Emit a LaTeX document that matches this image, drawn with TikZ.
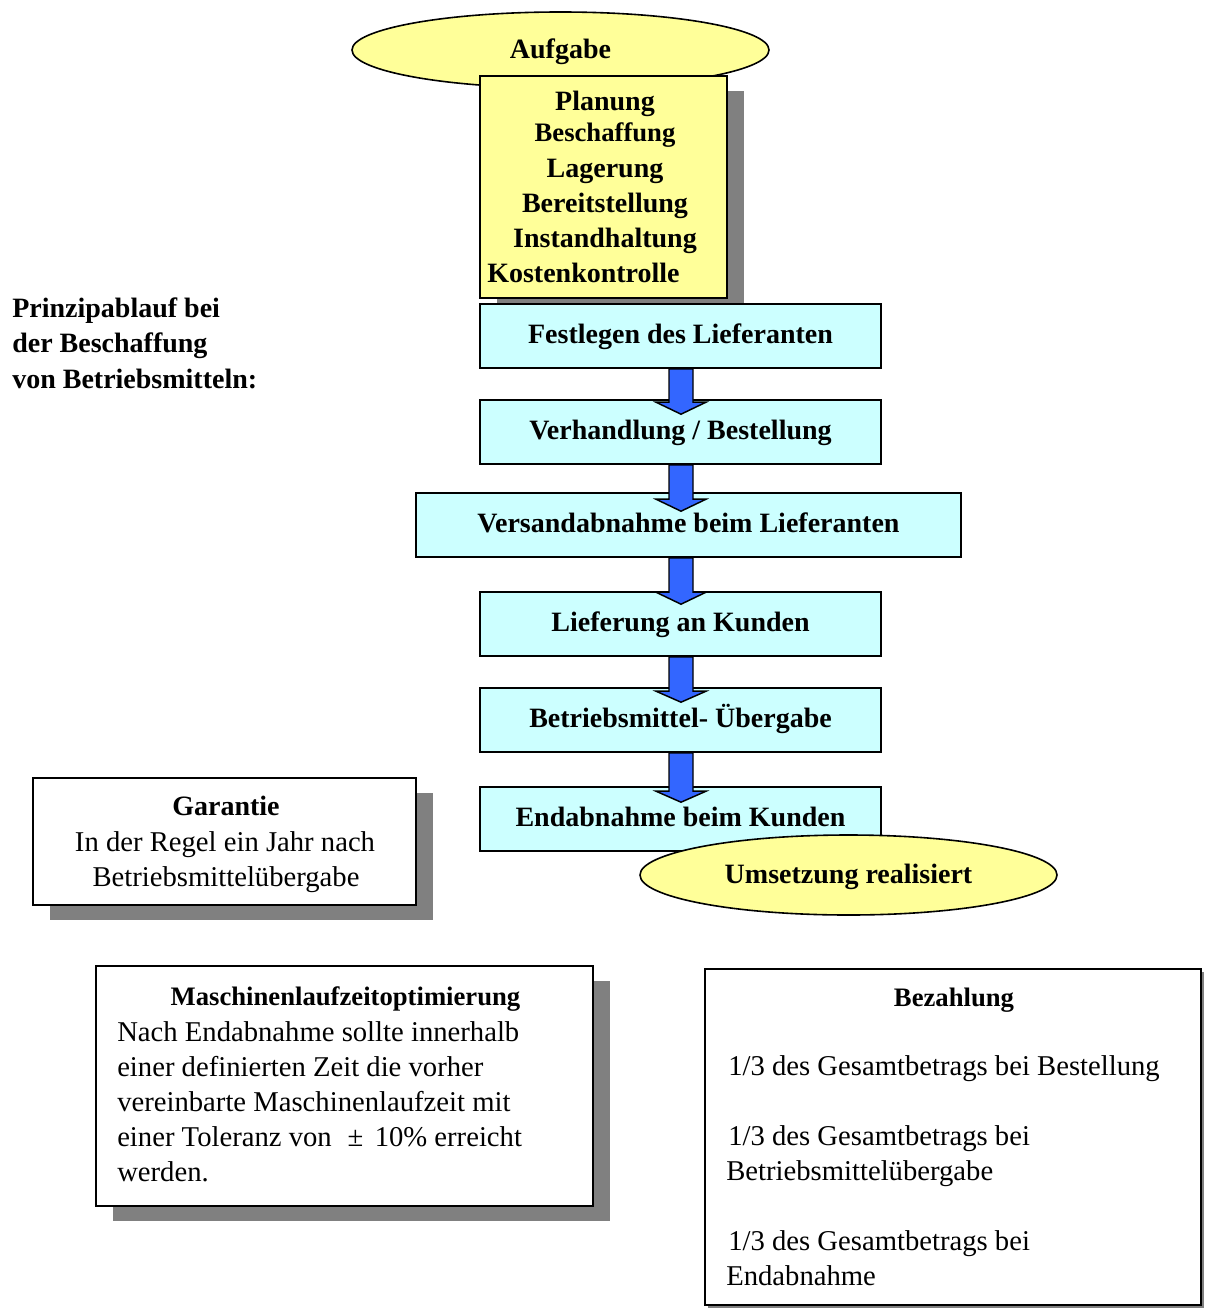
\documentclass[tikz,border=0pt]{standalone}
\usepackage{fontspec}
\setmainfont{Liberation Serif}
\usetikzlibrary{shapes.geometric,calc,shadows}

\definecolor{paleyellow}{HTML}{FFFF99}
\definecolor{palecyan}{HTML}{CCFFFF}
\definecolor{shadowgray}{HTML}{808080}
\definecolor{arrowblue}{HTML}{3366FF}

\tikzset{
  outline/.style={draw=black, line width=1.2pt},
  boldfont/.style={font=\bfseries\fontsize{21}{25}\selectfont},
  plainfont/.style={font=\fontsize{21.5}{25}\selectfont},
  headfont/.style={font=\bfseries\fontsize{20}{24}\selectfont},
  centred/.style={text height=13.9pt, text depth=2pt},
  goal/.style={ellipse, outline, fill=paleyellow, inner sep=0pt,
    minimum width=312.75pt, boldfont, text height=13.9pt, text depth=0.5pt},
  flowbox/.style={rectangle, outline, fill=palecyan, inner sep=0pt,
    minimum width=300.75pt, minimum height=48pt, boldfont, centred},
  infobox/.style={rectangle, outline, fill=white, inner sep=0pt},
  bigshadow/.style={drop shadow={shadow xshift=12.5pt, shadow yshift=-11.5pt,
    fill=shadowgray, opacity=1}},
  smallshadow/.style={drop shadow={shadow xshift=2.5pt, shadow yshift=-2.5pt,
    fill=shadowgray, opacity=1}},
  line/.style={inner sep=0pt, anchor=base},
  blockarrow/.style={fill=arrowblue, draw=black, line width=1.1pt, line join=miter},
}

% block arrow between two boxes along the common axis;
% #3 = start of the head, #4 = tip, both measured below the target's top edge
\newcommand\flowarrow[4]{%
  \draw[blockarrow]
    ($(axis |- #1.south)+(-12,0)$) -- ($(axis |- #1.south)+(12,0)$)
    -- ($(axis |- #2.north)+(12,#3)$) -- ($(axis |- #2.north)+(25,#3)$)
    -- ($(axis |- #2.north)+(0,#4)$)
    -- ($(axis |- #2.north)+(-25,#3)$) -- ($(axis |- #2.north)+(-12,#3)$)
    -- cycle;}

\begin{document}
\begin{tikzpicture}[x=0.75pt,y=-0.75pt]
  \fill[white] (0,0) rectangle (1208,1313);
  \useasboundingbox (0,0) rectangle (1208,1313);

  % task ellipse and the list of tasks
  \node[goal, minimum height=57pt] (aufgabe) at (560.5,50) {Aufgabe};
  \node[rectangle, outline, fill=paleyellow, bigshadow, inner sep=0pt,
        minimum width=185.25pt, minimum height=166.5pt] (tasks) at (603.5,187) {};
  \node[line, boldfont] (t1) at (605,110) {Planung};
  \node[line, headfont] (t2) at (605,142) {Beschaffung};
  \node[line, boldfont] (t3) at (605,177) {Lagerung};
  \node[line, boldfont] (t4) at (605,212) {Bereitstellung};
  \node[line, boldfont] (t5) at (605,247) {Instandhaltung};
  \node[line, boldfont, anchor=base west] (t6) at (487,282) {Kostenkontrolle};

  % process title
  \node[line, boldfont, anchor=base west] (h1) at (12,317) {Prinzipablauf bei};
  \node[line, boldfont, anchor=base west] (h2) at (12,352) {der Beschaffung};
  \node[line, boldfont, anchor=base west] (h3) at (12,388) {von Betriebsmitteln:};

  % process steps
  \node[flowbox] (b1) at (680.5,336) {Festlegen des Lieferanten};
  \node[flowbox] (b2) at (680.5,432) {Verhandlung / Bestellung};
  \node[flowbox, minimum width=408.75pt] (b3) at (688.5,525) {Versandabnahme beim Lieferanten};
  \node[flowbox] (b4) at (680.5,624) {Lieferung an Kunden};
  \node[flowbox] (b5) at (680.5,720) {Betriebsmittel- Übergabe};
  \node[flowbox] (b6) at (680.5,819) {Endabnahme beim Kunden};

  \coordinate (axis) at (681,0);
  \flowarrow{b1}{b2}{3}{15}
  \flowarrow{b2}{b3}{7}{19}
  \flowarrow{b3}{b4}{1}{13}
  \flowarrow{b4}{b5}{4}{15}
  \flowarrow{b5}{b6}{5}{16}

  \node[goal, minimum height=60pt] (done) at (848.5,875) {Umsetzung realisiert};

  % warranty
  \node[infobox, bigshadow, minimum width=287.25pt, minimum height=95.25pt]
    (garantie) at (224.5,841.5) {};
  \node[line, boldfont] (g1) at (226,815) {Garantie};
  \node[line, plainfont] (g2) at (225,851) {In der Regel ein Jahr nach};
  \node[line, plainfont] (g3) at (226,886) {Betriebsmittelübergabe};

  % run time optimisation
  \node[infobox, bigshadow, minimum width=372.75pt, minimum height=180pt]
    (laufzeit) at (344.5,1086) {};
  \node[line, headfont] (m0) at (345.5,1005) {Maschinenlaufzeitoptimierung};
  \node[line, plainfont, anchor=base west] (m1) at (117,1041) {Nach Endabnahme sollte innerhalb};
  \node[line, plainfont, anchor=base west] (m2) at (117,1076) {einer definierten Zeit die vorher};
  \node[line, plainfont, anchor=base west] (m3) at (117,1111) {vereinbarte Maschinenlaufzeit mit};
  \node[line, plainfont, anchor=base west] (m4) at (117,1146) {einer Toleranz von\hspace{0.55em}±\hspace{0.4em}10\% erreicht};
  \node[line, plainfont, anchor=base west] (m5) at (117,1181) {werden.};

  % payment
  \node[infobox, smallshadow, minimum width=372pt, minimum height=252pt]
    (zahlung) at (953,1137) {};
  \node[line, headfont] (z0) at (954,1006) {Bezahlung};
  \node[line, plainfont, anchor=base west] (z1) at (728,1075) {1/3 des Gesamtbetrags bei Bestellung};
  \node[line, plainfont, anchor=base west] (z2) at (728,1145) {1/3 des Gesamtbetrags bei};
  \node[line, plainfont, anchor=base west] (z3) at (726,1180) {Betriebsmittelübergabe};
  \node[line, plainfont, anchor=base west] (z4) at (728,1250) {1/3 des Gesamtbetrags bei};
  \node[line, plainfont, anchor=base west] (z5) at (726,1285) {Endabnahme};
\end{tikzpicture}
\end{document}
